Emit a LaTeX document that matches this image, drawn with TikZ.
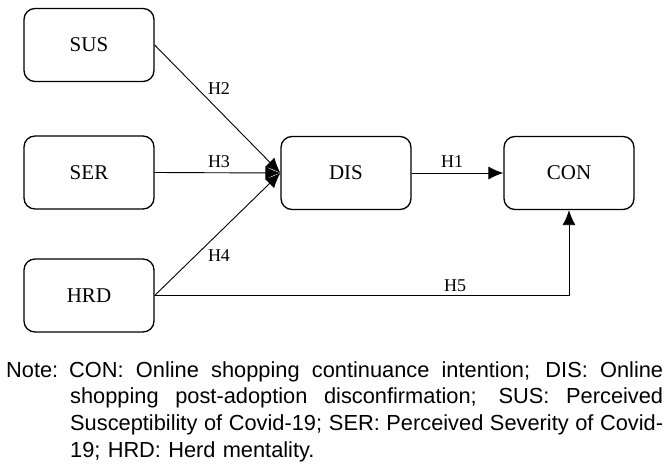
\documentclass[tikz,border=0pt]{standalone}
\usepackage{fontspec}
\setmainfont{Liberation Serif}
\newfontfamily\notefont{Liberation Sans}
\usetikzlibrary{arrows.meta}
\newcommand{\jline}[2]{\hbox to #1{\spaceskip=0.278em plus 1fil\relax #2}}
\begin{document}
\begin{tikzpicture}[x=1pt,y=-1pt,
  box/.style={draw,line width=1.3pt,rounded corners=11pt,minimum width=130pt,minimum height=73pt,inner sep=0pt,font=\fontsize{21}{24}\selectfont},
  conn/.style={line width=0.9pt,-{Latex[length=15pt,width=13pt]}},
  hlab/.style={inner sep=0pt,font=\fontsize{18}{20}\selectfont}]
\useasboundingbox (0,0) rectangle (669,463);
\node[box] (SUS) at (89,45) {SUS};
\node[box] (SER) at (89,172.5) {SER};
\node[box] (HRD) at (89,295.5) {HRD};
\node[box] (DIS) at (346,173) {DIS};
\node[box] (CON) at (569,173) {CON};
\draw[conn] (SUS.east) -- (DIS.west);
\draw[conn] (SER.east) -- (DIS.west);
\draw[conn] (HRD.east) -- (DIS.west);
\draw[conn] (DIS.east) -- (CON.west);
\draw[conn] (HRD.east) -| (CON.south);
\node[hlab] (h2) at (219,89) {H2};
\node[hlab] (h3) at (219,162) {H3};
\node[hlab] (h4) at (219,256) {H4};
\node[hlab] (h1) at (452,162) {H1};
\node[hlab] (h5) at (455,286) {H5};
\node[anchor=base west,inner sep=0pt,text width=657pt,font=\notefont\fontsize{21.8}{26.7}\selectfont] (note) at (6,377) {%
\jline{657pt}{Note: CON: Online shopping continuance intention; DIS: Online}
\jline{657pt}{\hspace*{64pt}shopping post-adoption disconfirmation; SUS: Perceived}
\jline{657pt}{\hspace*{64pt}Susceptibility of Covid-19; SER: Perceived Severity of Covid-}
\hbox{\hspace*{64pt}19; HRD: Herd mentality.}};
\end{tikzpicture}
\end{document}
